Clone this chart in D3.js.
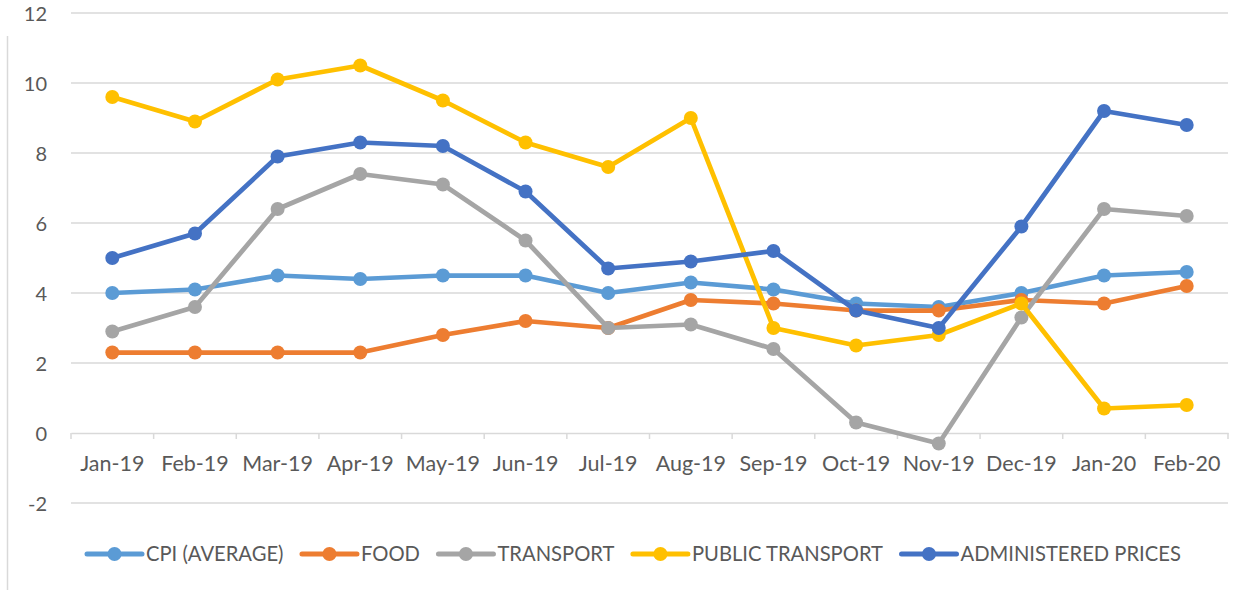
<!DOCTYPE html>
<html>
<head>
<meta charset="utf-8">
<script src="https://cdn.jsdelivr.net/npm/d3@7"></script>
<style>
  body { margin: 0; background: #fff; }
  svg { display: block; font-family: Lato, "Open Sans", sans-serif; }
</style>
</head>
<body>
<div class="chart"></div>
<script>
const months = ['Jan-19', 'Feb-19', 'Mar-19', 'Apr-19', 'May-19', 'Jun-19', 'Jul-19',
    'Aug-19', 'Sep-19', 'Oct-19', 'Nov-19', 'Dec-19', 'Jan-20', 'Feb-20'];
const cpi = [4.0, 4.1, 4.5, 4.4, 4.5, 4.5, 4.0, 4.3, 4.1, 3.7, 3.6, 4.0, 4.5, 4.6];
const food = [2.3, 2.3, 2.3, 2.3, 2.8, 3.2, 3.0, 3.8, 3.7, 3.5, 3.5, 3.8, 3.7, 4.2];
const transport = [2.9, 3.6, 6.4, 7.4, 7.1, 5.5, 3.0, 3.1, 2.4, 0.3, -0.3, 3.3, 6.4, 6.2];
const publicTransport = [9.6, 8.9, 10.1, 10.5, 9.5, 8.3, 7.6, 9.0, 3.0, 2.5, 2.8, 3.7, 0.7, 0.8];
const administered = [5.0, 5.7, 7.9, 8.3, 8.2, 6.9, 4.7, 4.9, 5.2, 3.5, 3.0, 5.9, 9.2, 8.8];
const yTicks = [-2, 0, 2, 4, 6, 8, 10, 12];

const series = [
    { name: 'CPI (AVERAGE)', color: '#5b9bd5', values: cpi },
    { name: 'FOOD', color: '#ed7d31', values: food },
    { name: 'TRANSPORT', color: '#a5a5a5', values: transport },
    { name: 'PUBLIC TRANSPORT', color: '#ffc000', values: publicTransport },
    { name: 'ADMINISTERED PRICES', color: '#4472c4', values: administered }
];

const w = 1252, h = 590;
const left = 71, right = 1228;

const svg = d3.select('.chart').append('svg')
    .attr('width', w)
    .attr('height', h);

// frame edge visible at left
svg.append('line')
    .attr('x1', 7.5).attr('x2', 7.5)
    .attr('y1', 36).attr('y2', h)
    .attr('stroke', '#d9d9d9').attr('stroke-width', 1.5);

const x = d3.scaleBand().domain(months).range([left, right]);
const y = d3.scaleLinear().domain([-2, 12]).range([503, 13]);

// gridlines
svg.append('g')
    .selectAll('line')
    .data(yTicks.filter(d => d !== 0))
    .join('line')
    .attr('x1', left).attr('x2', right)
    .attr('y1', d => y(d)).attr('y2', d => y(d))
    .attr('stroke', '#d9d9d9').attr('stroke-width', 1.5);

// y labels
svg.append('g')
    .selectAll('text')
    .data(yTicks)
    .join('text')
    .attr('x', 47)
    .attr('y', d => y(d) + 1)
    .attr('dy', '0.35em')
    .attr('text-anchor', 'end')
    .attr('fill', '#595959')
    .attr('font-size', 20)
    .text(d => d);

// x axis at zero
const xAxis = svg.append('g')
    .attr('transform', `translate(0,${y(0)})`)
    .call(d3.axisBottom(x).tickSize(0));
xAxis.select('.domain').attr('stroke', '#d9d9d9').attr('stroke-width', 1.5);
xAxis.selectAll('text')
    .attr('y', 38)
    .attr('dy', 0)
    .attr('fill', '#595959')
    .attr('font-size', 21.5)
    .attr('font-family', 'Lato, "Open Sans", sans-serif');

// category boundary ticks
svg.append('g')
    .selectAll('line')
    .data(d3.range(months.length + 1))
    .join('line')
    .attr('x1', i => left + i * x.step())
    .attr('x2', i => left + i * x.step())
    .attr('y1', y(0)).attr('y2', y(0) + 6)
    .attr('stroke', '#d9d9d9').attr('stroke-width', 1.5);

const line = d3.line()
    .x((d, i) => x(months[i]) + x.bandwidth() / 2)
    .y(d => y(d));

const g = svg.append('g')
    .selectAll('g')
    .data(series)
    .join('g');

g.append('path')
    .attr('d', d => line(d.values))
    .attr('fill', 'none')
    .attr('stroke', d => d.color)
    .attr('stroke-width', 4.75)
    .attr('stroke-linejoin', 'round')
    .attr('stroke-linecap', 'round');

g.selectAll('circle')
    .data(d => d.values.map(v => ({ v, color: d.color })))
    .join('circle')
    .attr('cx', (d, i) => x(months[i]) + x.bandwidth() / 2)
    .attr('cy', d => y(d.v))
    .attr('r', 7)
    .attr('fill', d => d.color);

// legend: items laid out one after another from measured text widths
const legendY = 554, swatch = 55, gap = 18.5;
const lg = svg.append('g');
let lx = 87;
series.forEach(s => {
    const item = lg.append('g').attr('transform', `translate(${lx},${legendY})`);
    item.append('line')
        .attr('x1', 0).attr('x2', swatch)
        .attr('stroke', s.color)
        .attr('stroke-width', 5)
        .attr('stroke-linecap', 'round');
    item.append('circle')
        .attr('cx', swatch / 2)
        .attr('r', 7)
        .attr('fill', s.color);
    const t = item.append('text')
        .attr('x', swatch + 4)
        .attr('dy', '0.35em')
        .attr('fill', '#595959')
        .attr('font-size', 20.2)
        .text(s.name);
    lx += swatch + 4 + t.node().getComputedTextLength() + gap;
});
</script>
</body>
</html>
